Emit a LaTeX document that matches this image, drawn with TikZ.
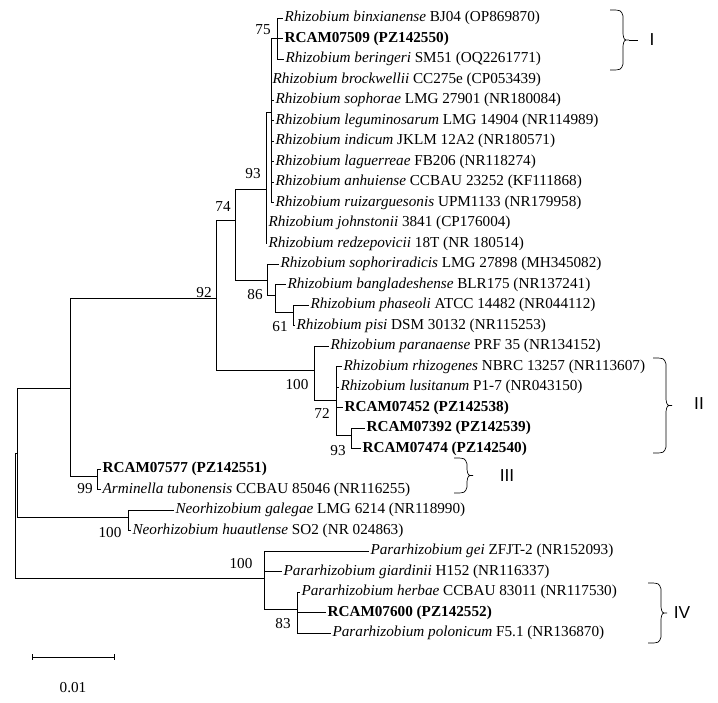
\documentclass[tikz,border=0pt]{standalone}
\usepackage{fontspec}
\setmainfont{Liberation Serif}
\newfontfamily\numfont{Liberation Sans}
\begin{document}
\begin{tikzpicture}[x=0.75pt,y=-0.75pt,
  leaf/.style={anchor=west,inner sep=1pt,font=\fontsize{11.4}{12}\selectfont},
  boot/.style={inner sep=0pt,font=\fontsize{11.4}{12}\selectfont},
  clade/.style={inner sep=0pt,font=\numfont\fontsize{13}{14}\selectfont},
  br/.style={line width=.5pt}]
\useasboundingbox (0,0) rectangle (718,703);
\newcommand\cladebrace[3]{% x, top, bottom
  \draw[br] (#1,#2) .. controls (#1+11,#2) .. (#1+13,#2+6) -- (#1+13,{(#2+#3)/2-6})
    .. controls (#1+14,{(#2+#3)/2}) .. (#1+19,{(#2+#3)/2})
    .. controls (#1+14,{(#2+#3)/2}) .. (#1+13,{(#2+#3)/2+6}) -- (#1+13,#3-6)
    .. controls (#1+11,#3) .. (#1,#3);}

% leaves
\node[leaf] (binx) at (283,18) {\textit{Rhizobium binxianense} BJ04 (OP869870)};
\node[leaf] (r509) at (283,38.5) {\textbf{RCAM07509 (PZ142550)}};
\node[leaf] (beri) at (284,59) {\textit{Rhizobium beringeri} SM51 (OQ2261771)};
\node[leaf] (broc) at (271,79.5) {\textit{Rhizobium brockwellii} CC275e (CP053439)};
\node[leaf] (soph) at (274,100) {\textit{Rhizobium sophorae} LMG 27901 (NR180084)};
\node[leaf] (legu) at (274,120.5) {\textit{Rhizobium leguminosarum} LMG 14904 (NR114989)};
\node[leaf] (indi) at (274,141) {\textit{Rhizobium indicum} JKLM 12A2 (NR180571)};
\node[leaf] (lagu) at (274,161.5) {\textit{Rhizobium laguerreae} FB206 (NR118274)};
\node[leaf] (anhu) at (274,182) {\textit{Rhizobium anhuiense} CCBAU 23252 (KF111868)};
\node[leaf] (ruiz) at (274,202.5) {\textit{Rhizobium ruizarguesonis} UPM1133 (NR179958)};
\node[leaf] (john) at (267,223) {\textit{Rhizobium johnstonii} 3841 (CP176004)};
\node[leaf] (redz) at (267,243.5) {\textit{Rhizobium redzepovicii} 18T (NR 180514)};
\node[leaf] (sora) at (279,264) {\textit{Rhizobium sophoriradicis} LMG 27898 (MH345082)};
\node[leaf] (bang) at (286,284.5) {\textit{Rhizobium bangladeshense} BLR175 (NR137241)};
\node[leaf] (phas) at (309,305) {\textit{Rhizobium phaseoli} ATCC 14482 (NR044112)};
\node[leaf] (pisi) at (295,325.5) {\textit{Rhizobium pisi} DSM 30132 (NR115253)};
\node[leaf] (para) at (329,346) {\textit{Rhizobium paranaense} PRF 35 (NR134152)};
\node[leaf] (rhiz) at (342,366.5) {\textit{Rhizobium rhizogenes} NBRC 13257 (NR113607)};
\node[leaf] (lusi) at (339,387) {\textit{Rhizobium lusitanum} P1-7 (NR043150)};
\node[leaf] (r452) at (343,407.5) {\textbf{RCAM07452 (PZ142538)}};
\node[leaf] (r392) at (365,428) {\textbf{RCAM07392 (PZ142539)}};
\node[leaf] (r474) at (361,448.5) {\textbf{RCAM07474 (PZ142540)}};
\node[leaf] (r577) at (101,469) {\textbf{RCAM07577 (PZ142551)}};
\node[leaf] (armi) at (101,489.5) {\textit{Arminella tubonensis} CCBAU 85046 (NR116255)};
\node[leaf] (gale) at (174,510) {\textit{Neorhizobium galegae} LMG 6214 (NR118990)};
\node[leaf] (huau) at (131,530.5) {\textit{Neorhizobium huautlense} SO2 (NR 024863)};
\node[leaf] (gei) at (369,551) {\textit{Pararhizobium gei} ZFJT-2\ (NR152093)};
\node[leaf] (giar) at (282,571.5) {\textit{Pararhizobium giardinii} H152 (NR116337)};
\node[leaf] (herb) at (300,592) {\textit{Pararhizobium herbae} CCBAU 83011 (NR117530)};
\node[leaf] (r600) at (326,612.5) {\textbf{RCAM07600 (PZ142552)}};
\node[leaf] (polo) at (331,633) {\textit{Pararhizobium polonicum} F5.1 (NR136870)};

% internal nodes
\coordinate (nRoot) at (15,515);
\coordinate (nA) at (17,453);
\coordinate (nB) at (70,388);
\coordinate (n99) at (97,476);
\coordinate (nNeo) at (128,517);
\coordinate (n92) at (216,298);
\coordinate (n74) at (235,220);
\coordinate (n93a) at (266,189);
\coordinate (nPoly) at (271,112);
\coordinate (n75) at (277,38.5);
\coordinate (n86) at (267,280);
\coordinate (nBang) at (275,295);
\coordinate (n61) at (293,312);
\coordinate (nII) at (314,370);
\coordinate (n72) at (336,400);
\coordinate (n93b) at (351,435);
\coordinate (nPara) at (264,578);
\coordinate (n83) at (297,609);

\draw[line width=.5pt]
  (nRoot) |- (nA)  (nRoot) |- (nPara)
  (nA) |- (nB)  (nA) |- (nNeo)
  (nB) |- (n92)  (nB) |- (n99)
  (n99) |- (r577.west)  (n99) |- (armi.west)
  (nNeo) |- (gale.west)  (nNeo) |- (huau.west)
  (n92) |- (n74)  (n92) |- (nII)
  (n74) |- (n93a)  (n74) |- (n86)
  (n93a) |- (nPoly)  (n93a) |- (john.west)  (n93a) |- (redz.west)
  (nPoly) |- (n75)  (nPoly) |- (broc.west)  (nPoly) |- (soph.west)
  (nPoly) |- (legu.west)  (nPoly) |- (indi.west)  (nPoly) |- (lagu.west)
  (nPoly) |- (anhu.west)  (nPoly) |- (ruiz.west)
  (n75) |- (binx.west)  (n75) -- (r509.west)  (n75) |- (beri.west)
  (n86) |- (sora.west)  (n86) |- (nBang)
  (nBang) |- (bang.west)  (nBang) |- (n61)
  (n61) |- (phas.west)  (n61) |- (pisi.west)
  (nII) |- (para.west)  (nII) |- (n72)
  (n72) |- (rhiz.west)  (n72) |- (lusi.west)  (n72) |- (r452.west)  (n72) |- (n93b)
  (n93b) |- (r392.west)  (n93b) |- (r474.west)
  (nPara) |- (gei.west)  (nPara) |- (giar.west)  (nPara) |- (n83)
  (n83) |- (herb.west)  (n83) |- (r600.west)  (n83) |- (polo.west);

% bootstrap values
\node[boot] at (263,30) {75};
\node[boot] at (253,174) {93};
\node[boot] at (223,206) {74};
\node[boot] at (204,293) {92};
\node[boot] at (255,295) {86};
\node[boot] at (280,327) {61};
\node[boot] at (297,385) {100};
\node[boot] at (322,413) {72};
\node[boot] at (338,451) {93};
\node[boot] at (85,489) {99};
\node[boot] at (110,533) {100};
\node[boot] at (241,564) {100};
\node[boot] at (283,624) {83};

% clade braces
\cladebrace{610}{10}{70}
\draw[br] (629,40) -- (638,40);
\node[clade] at (652,40) {I};
\cladebrace{653}{358}{453}
\node[clade] at (699,404) {II};
\cladebrace{454}{458}{493}
\node[clade] at (507,476) {III};
\cladebrace{648}{583}{643}
\node[clade] at (682,613) {IV};

% scale bar
\draw[line width=.5pt] (32,657) -- (114,657) (32,654) -- (32,660) (114,654) -- (114,660);
\node[boot] at (73,688) {0.01};
\end{tikzpicture}
\end{document}
